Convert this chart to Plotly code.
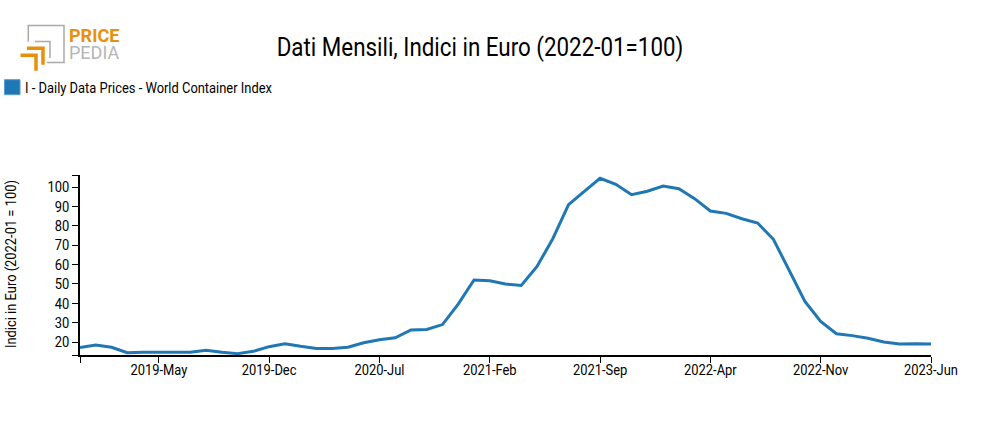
import plotly.graph_objects as go

months = []
for year in range(2018, 2024):
    for name in ["Jan", "Feb", "Mar", "Apr", "May", "Jun", "Jul", "Aug", "Sep", "Oct", "Nov", "Dec"]:
        months.append(f"{year}-{name}")
months = months[months.index("2018-Dec"):months.index("2023-Jun") + 1]

wci = [17.2, 18.4, 17.3, 14.5, 14.7, 14.7, 14.6, 14.7, 15.8, 14.7,
       14.0, 15.2, 17.6, 19.1, 17.8, 16.7, 16.7, 17.3, 19.6, 21.2,
       22.2, 26.2, 26.5, 29.0, 39.6, 52.0, 51.6, 49.9, 49.2, 59.0,
       73.3, 90.9, 97.8, 104.5, 101.4, 96.0, 97.8, 100.5, 99.1, 94.0,
       87.6, 86.4, 83.6, 81.4, 73.0, 57.0, 41.0, 30.6, 24.3, 23.3,
       21.9, 20.0, 19.0, 19.1, 19.0]

x_ticks = ["2018-Dec", "2019-May", "2019-Dec", "2020-Jul", "2021-Feb", "2021-Sep", "2022-Apr", "2022-Nov", "2023-Jun"]
x_labels = [""] + x_ticks[1:]
y_min, y_max = 13.3, 106.2
y_ticks = [y_min, 20, 30, 40, 50, 60, 70, 80, 90, 100, y_max]
y_labels = ["", "20", "30", "40", "50", "60", "70", "80", "90", "100", ""]

FONT = "Roboto, sans-serif"
W, H = 985, 430
LEFT, RIGHT, TOP, BOTTOM = 80, 931, 175.3, 355.3


# page pixels to paper coordinates (paper means the plot area here)
def px(x):
    return (x - LEFT) / (RIGHT - LEFT)


def py(y):
    return (BOTTOM - y) / (BOTTOM - TOP)


def path(points, color, width):
    d = "M " + " L ".join(f"{px(x):.5f},{py(y):.5f}" for x, y in points)
    return dict(type="path", path=d, xref="paper", yref="paper", line=dict(color=color, width=width), layer="above")


fig = go.Figure()
fig.add_trace(go.Scatter(x=months, y=wci, mode="lines", line=dict(color="#1f77b4", width=3), showlegend=False))

fig.update_layout(
    width=W, height=H, margin=dict(l=LEFT, r=W - RIGHT, t=TOP, b=H - BOTTOM),
    paper_bgcolor="white", plot_bgcolor="white",
    font=dict(family=FONT, size=15, color="black"),
    title=dict(text="Dati Mensili, Indici in Euro (2022-01=100)", x=480 / W, y=1 - 47 / H,
               xanchor="center", yanchor="middle", font=dict(size=26)),
)
fig.update_xaxes(type="category", categoryorder="array", categoryarray=months, range=[0, len(months) - 1],
                 tickmode="array", tickvals=x_ticks, ticktext=x_labels, ticks="outside", ticklen=6,
                 tickcolor="black", showline=True, linecolor="black", linewidth=1.5, showgrid=False, zeroline=False,
                 ticklabelstandoff=-6)
fig.update_yaxes(range=[y_min, y_max], tickmode="array", tickvals=y_ticks, ticktext=y_labels, ticks="outside",
                 ticklen=6, tickcolor="black", showline=True, linecolor="black", linewidth=1.5, showgrid=False,
                 zeroline=False)

# y title as annotation, a real axis title pushes the left margin out
fig.add_annotation(text="Indici in Euro (2022-01 = 100)", xref="paper", yref="paper", x=px(11), y=py(265),
                   xanchor="center", yanchor="middle", textangle=-90, showarrow=False, font=dict(size=15))

# legend drawn by hand: the original has a filled square, not a line sample
fig.add_shape(type="rect", xref="paper", yref="paper", x0=px(4.5), x1=px(20), y0=py(95), y1=py(80),
              fillcolor="#1f77b4", line=dict(color="#5b9bd0", width=1))
fig.add_annotation(text="I - Daily Data Prices - World Container Index", xref="paper", yref="paper",
                   x=px(149), y=py(88.5), xanchor="center", yanchor="middle", showarrow=False, font=dict(size=15))

# logo
GREY, ORANGE = "#a9a9a9", "#e8900c"
fig.add_shape(**path([(28.3, 42), (28.3, 25.7), (64, 25.7), (64, 62.7), (46.7, 62.7)], GREY, 1.5))
fig.add_shape(**path([(35, 41.7), (50, 41.7), (50, 58.3)], GREY, 1.5))
fig.add_shape(**path([(27, 48.5), (43, 48.5), (43, 65)], ORANGE, 3.5))
fig.add_shape(**path([(20.5, 55.5), (36, 55.5), (36, 71)], ORANGE, 3.5))
fig.add_annotation(text="<b>PRICE</b>", xref="paper", yref="paper", x=px(67), y=py(36), xanchor="left", yanchor="middle",
                   showarrow=False, font=dict(size=18, color=ORANGE))
fig.add_annotation(text="PEDIA", xref="paper", yref="paper", x=px(67), y=py(52.7), xanchor="left", yanchor="middle",
                   showarrow=False, font=dict(size=18, color="#b5b5b5"))

# the original font is a condensed one, which is not installed: squeeze the text
squeeze = """
document.body.style.margin = '0';
document.querySelectorAll('svg text').forEach(function (t) {
    if (t.textContent === 'PRICE' || t.textContent === 'PEDIA' || !t.textContent) return;
    t.setAttribute('textLength', t.getComputedTextLength() * 0.86);
    t.setAttribute('lengthAdjust', 'spacingAndGlyphs');
});
"""
fig.write_html("out.html", post_script=squeeze, config=dict(displayModeBar=False))
